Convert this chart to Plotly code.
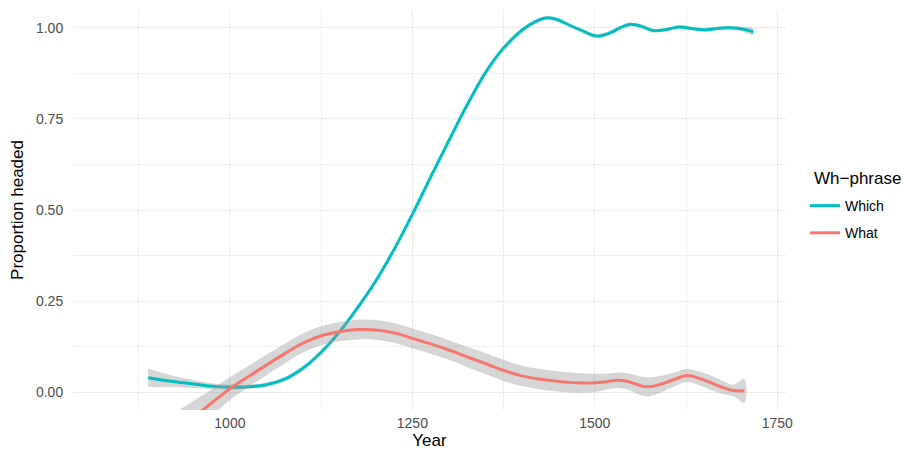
import plotly.graph_objects as go

# Smoothed proportion of headed relatives by wh-phrase, with confidence band
which_years = [888, 900, 925, 950, 975, 1000, 1025, 1050, 1075, 1100, 1125, 1150,
               1175, 1200, 1225, 1250, 1275, 1300, 1325, 1350, 1375, 1400, 1420,
               1435, 1450, 1466, 1485, 1502, 1520, 1535, 1548, 1565, 1580, 1598,
               1616, 1635, 1653, 1668, 1683, 1700, 1717]
which_fit = [0.040, 0.036, 0.029, 0.023, 0.017, 0.014, 0.015, 0.021, 0.036, 0.066,
             0.110, 0.165, 0.232, 0.306, 0.392, 0.488, 0.590, 0.690, 0.788, 0.876,
             0.944, 0.993, 1.018, 1.027, 1.021, 1.006, 0.990, 0.977, 0.985, 1.000,
             1.009, 1.003, 0.992, 0.995, 1.002, 0.997, 0.994, 0.998, 1.000, 0.997,
             0.989]
which_se = [0.025, 0.022, 0.015, 0.011, 0.008, 0.007, 0.006, 0.006, 0.006, 0.006,
            0.006, 0.006, 0.006, 0.006, 0.005, 0.005, 0.005, 0.005, 0.005, 0.005,
            0.005, 0.005, 0.005, 0.005, 0.005, 0.005, 0.005, 0.005, 0.005, 0.005,
            0.005, 0.005, 0.005, 0.005, 0.005, 0.005, 0.005, 0.005, 0.005, 0.006,
            0.009]

what_years = [888, 925, 950, 975, 1000, 1025, 1050, 1075, 1100, 1125, 1150, 1175,
              1200, 1225, 1250, 1275, 1300, 1325, 1350, 1375, 1400, 1425, 1450,
              1475, 1500, 1515, 1530, 1545, 1560, 1572, 1590, 1610, 1626, 1645,
              1662, 1677, 1690, 1705]
what_fit = [-0.170, -0.110, -0.069, -0.029, 0.010, 0.043, 0.075, 0.106, 0.135,
            0.155, 0.166, 0.172, 0.171, 0.163, 0.148, 0.133, 0.116, 0.097, 0.079,
            0.060, 0.045, 0.036, 0.030, 0.026, 0.026, 0.029, 0.033, 0.030, 0.020,
            0.015, 0.022, 0.036, 0.046, 0.037, 0.024, 0.012, 0.005, 0.004]
what_se = [0.070, 0.055, 0.045, 0.037, 0.031, 0.029, 0.028, 0.027, 0.026, 0.026,
           0.026, 0.027, 0.027, 0.027, 0.027, 0.027, 0.027, 0.028, 0.029, 0.029,
           0.028, 0.028, 0.028, 0.027, 0.025, 0.022, 0.021, 0.022, 0.025, 0.026,
           0.023, 0.019, 0.018, 0.019, 0.020, 0.018, 0.016, 0.033]

series = [
    ("Which", which_years, which_fit, which_se, "#00BFC4"),
    ("What", what_years, what_fit, what_se, "#F8766D"),
]

x_ticks = [1000, 1250, 1500, 1750]
y_ticks = [0.00, 0.25, 0.50, 0.75, 1.00]
y_tick_text = ["0.00", "0.25", "0.50", "0.75", "1.00"]

FONT = "Liberation Sans, Arial, sans-serif"
W, H = 904, 454

fig = go.Figure()
for name, yrs, fit, se, color in series:
    upper = [f + s for f, s in zip(fit, se)]
    lower = [f - s for f, s in zip(fit, se)]
    fig.add_trace(go.Scatter(
        x=yrs + yrs[::-1], y=upper + lower[::-1],
        fill="toself", fillcolor="rgba(153,153,153,0.4)",
        line=dict(width=0, shape="spline", smoothing=1.0),
        mode="lines", hoverinfo="skip", showlegend=False,
    ))
    fig.add_trace(go.Scatter(
        x=yrs, y=fit, mode="lines", name=name, legendgroup=name,
        line=dict(color=color, width=3, shape="spline", smoothing=1.0),
    ))

common = dict(showgrid=True, gridcolor="#EBEBEB", gridwidth=1.3, zeroline=False,
              showline=False, ticks="outside", tickcolor="rgba(0,0,0,0)",
              automargin=False,
              tickfont=dict(family=FONT, size=14, color="#4D4D4D"))

fig.update_xaxes(
    range=[785, 1762], tickvals=x_ticks, ticklen=0,
    title=dict(text="Year", font=dict(family=FONT, size=17, color="#000000"),
               standoff=4),
    minor=dict(showgrid=True, gridcolor="#EFEFEF", gridwidth=0.8,
               tickvals=[875, 1125, 1375, 1625]),
    **common,
)
fig.update_yaxes(
    range=[-0.0485, 1.0485], tickvals=y_ticks, ticktext=y_tick_text, ticklen=6,
    title=dict(text="Proportion headed",
               font=dict(family=FONT, size=17, color="#000000"), standoff=8),
    minor=dict(showgrid=True, gridcolor="#EFEFEF", gridwidth=0.8,
               tickvals=[0.125, 0.375, 0.625, 0.875]),
    **common,
)

fig.add_annotation(
    text="Wh\u2212phrase", xref="paper", yref="paper",
    x=(812 - 73) / (W - 73 - 118), y=(H - 44 - 178) / (H - 10 - 44),
    xanchor="left", yanchor="middle", showarrow=False,
    font=dict(family=FONT, size=17, color="#000000"),
)

fig.update_layout(
    width=W, height=H,
    margin=dict(l=73, r=118, t=10, b=44),
    paper_bgcolor="white", plot_bgcolor="white",
    font=dict(family=FONT, color="#000000"),
    legend=dict(
        xref="container", yref="container",
        x=805 / W, xanchor="left", y=1 - 190 / H, yanchor="top",
        font=dict(family=FONT, size=14), tracegroupgap=6,
        itemwidth=30, bgcolor="rgba(0,0,0,0)",
    ),
)

fig.write_html("out.html")
